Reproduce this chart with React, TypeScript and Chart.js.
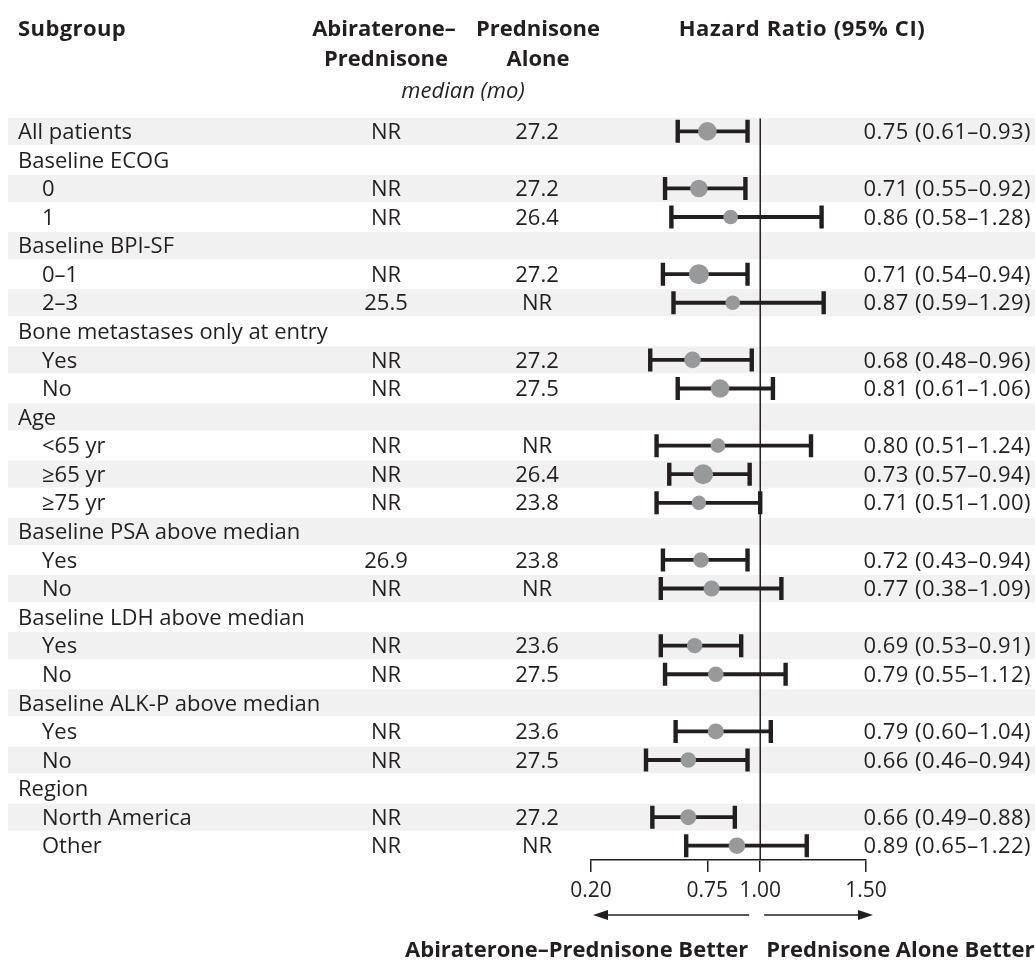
import React, { useEffect, useRef } from 'react';
import { Chart, registerables } from 'chart.js';

Chart.register(...registerables);

const W = 1035;
const H = 962;

// ---- data ----
const subgroups = [
  'All patients', 'Baseline ECOG', '0', '1', 'Baseline BPI-SF', '0–1', '2–3',
  'Bone metastases only at entry', 'Yes', 'No', 'Age', '<65 yr', '≥65 yr', '≥75 yr',
  'Baseline PSA above median', 'Yes', 'No', 'Baseline LDH above median', 'Yes', 'No',
  'Baseline ALK-P above median', 'Yes', 'No', 'Region', 'North America', 'Other',
];
const isSubRow = [0, 0, 1, 1, 0, 1, 1, 0, 1, 1, 0, 1, 1, 1, 0, 1, 1, 0, 1, 1, 0, 1, 1, 0, 1, 1];
const abiMedian = ['NR', '', 'NR', 'NR', '', 'NR', '25.5', '', 'NR', 'NR', '', 'NR', 'NR', 'NR', '', '26.9', 'NR', '', 'NR', 'NR', '', 'NR', 'NR', '', 'NR', 'NR'];
const predMedian = ['27.2', '', '27.2', '26.4', '', '27.2', 'NR', '', '27.2', '27.5', '', 'NR', '26.4', '23.8', '', '23.8', 'NR', '', '23.6', '27.5', '', '23.6', '27.5', '', '27.2', 'NR'];
const hr = [0.75, null, 0.71, 0.86, null, 0.71, 0.87, null, 0.68, 0.81, null, 0.80, 0.73, 0.71, null, 0.72, 0.77, null, 0.69, 0.79, null, 0.79, 0.66, null, 0.66, 0.89];
const ciLow = [0.61, null, 0.55, 0.58, null, 0.54, 0.59, null, 0.48, 0.61, null, 0.51, 0.57, 0.51, null, 0.54, 0.53, null, 0.53, 0.55, null, 0.60, 0.46, null, 0.49, 0.65];
const ciHigh = [0.94, null, 0.93, 1.29, null, 0.94, 1.30, null, 0.96, 1.06, null, 1.24, 0.95, 1.00, null, 0.94, 1.10, null, 0.91, 1.12, null, 1.05, 0.94, null, 0.88, 1.22];
const hrText = [
  '0.75 (0.61–0.93)', '', '0.71 (0.55–0.92)', '0.86 (0.58–1.28)', '', '0.71 (0.54–0.94)', '0.87 (0.59–1.29)', '',
  '0.68 (0.48–0.96)', '0.81 (0.61–1.06)', '', '0.80 (0.51–1.24)', '0.73 (0.57–0.94)', '0.71 (0.51–1.00)', '',
  '0.72 (0.43–0.94)', '0.77 (0.38–1.09)', '', '0.69 (0.53–0.91)', '0.79 (0.55–1.12)', '',
  '0.79 (0.60–1.04)', '0.66 (0.46–0.94)', '', '0.66 (0.49–0.88)', '0.89 (0.65–1.22)',
];
const xTicks = [0.2, 0.75, 1.0, 1.5];

// ---- styles ----
const markerRadius = [9.3, 0, 8.8, 7.3, 0, 10, 7.3, 0, 8.3, 9.3, 0, 7.3, 10, 7.2, 0, 7.8, 8, 0, 7.7, 7.8, 0, 8, 7.8, 0, 8, 8.3];
const INK = '#231f20';
const SHADE = '#f1f1f1';
const MARKER = '#97999b';
const FONT = '"Open Sans", sans-serif';
const BODY = 22;
const HEAD = 22;

function txt(ctx: CanvasRenderingContext2D, s: string, x: number, baseline: number, align: CanvasTextAlign, font: string, spacing = '0px') {
  ctx.font = font;
  ctx.textAlign = align;
  ctx.textBaseline = 'alphabetic';
  ctx.fillStyle = INK;
  (ctx as any).letterSpacing = spacing;
  ctx.fillText(s, x, baseline);
  (ctx as any).letterSpacing = '0px';
}

const forestPlugin = {
  id: 'forest',
  beforeDraw(chart: any) {
    const ctx = chart.ctx as CanvasRenderingContext2D;
    const y = chart.scales.y;
    ctx.save();
    ctx.fillStyle = SHADE;
    subgroups.forEach((_, i) => {
      if (i % 2 !== 0) return;
      const t = y.getPixelForValue(i - 0.5);
      const b = y.getPixelForValue(i + 0.5);
      ctx.fillRect(8, t + 0.8, W - 8, b - t - 1.6);
    });
    ctx.restore();
  },
  beforeDatasetsDraw(chart: any) {
    const ctx = chart.ctx as CanvasRenderingContext2D;
    const x = chart.scales.x;
    const y = chart.scales.y;
    ctx.save();
    const xr = x.getPixelForValue(1);
    ctx.strokeStyle = INK;
    ctx.lineWidth = 1.5;
    ctx.beginPath();
    ctx.moveTo(xr, y.getPixelForValue(-0.45));
    ctx.lineTo(xr, chart.chartArea.bottom);
    ctx.stroke();
    hr.forEach((v, i) => {
      if (v == null) return;
      const yc = y.getPixelForValue(i);
      const xl = x.getPixelForValue(ciLow[i] as number);
      const xh = x.getPixelForValue(ciHigh[i] as number);
      ctx.lineWidth = 3.8;
      ctx.beginPath();
      ctx.moveTo(xl, yc);
      ctx.lineTo(xh, yc);
      ctx.stroke();
      ctx.lineWidth = 4.4;
      ctx.beginPath();
      ctx.moveTo(xl, yc - 11.5);
      ctx.lineTo(xl, yc + 11.5);
      ctx.moveTo(xh, yc - 11.5);
      ctx.lineTo(xh, yc + 11.5);
      ctx.stroke();
    });
    ctx.restore();
  },
  afterDraw(chart: any) {
    const ctx = chart.ctx as CanvasRenderingContext2D;
    const x = chart.scales.x;
    const y = chart.scales.y;
    ctx.save();
    const bold = `bold ${HEAD}px ${FONT}`;
    const reg = `${BODY}px ${FONT}`;
    // header
    txt(ctx, 'Subgroup', 18, 36, 'left', bold, '0.4px');
    txt(ctx, 'Abiraterone–', 384, 36, 'center', bold);
    txt(ctx, 'Prednisone', 386, 66, 'center', bold);
    txt(ctx, 'Prednisone', 538, 36, 'center', bold);
    txt(ctx, 'Alone', 538, 66, 'center', bold);
    txt(ctx, 'median (mo)', 463, 98, 'center', `italic ${BODY}px ${FONT}`);
    txt(ctx, 'Hazard Ratio (95% CI)', 802, 36, 'center', bold, '0.6px');
    // rows
    subgroups.forEach((s, i) => {
      const base = y.getPixelForValue(i) + BODY * 0.35;
      txt(ctx, s, isSubRow[i] ? 42 : 18, base, 'left', reg);
      if (abiMedian[i]) txt(ctx, abiMedian[i], 386, base, 'center', reg);
      if (predMedian[i]) txt(ctx, predMedian[i], 537, base, 'center', reg);
      if (hrText[i]) txt(ctx, hrText[i], 1031, base, 'right', reg, '0.45px');
    });
    // arrows
    const xr = x.getPixelForValue(1);
    const ay = 915;
    const leftTip = x.getPixelForValue(0.2) + 2;
    const rightTip = x.getPixelForValue(1.5) + 7;
    ctx.strokeStyle = INK;
    ctx.fillStyle = INK;
    ctx.lineWidth = 1.5;
    ctx.beginPath();
    ctx.moveTo(xr - 11, ay);
    ctx.lineTo(leftTip + 10, ay);
    ctx.moveTo(xr + 4, ay);
    ctx.lineTo(rightTip - 10, ay);
    ctx.stroke();
    ctx.beginPath();
    ctx.moveTo(leftTip, ay);
    ctx.lineTo(leftTip + 15, ay - 5);
    ctx.lineTo(leftTip + 15, ay + 5);
    ctx.closePath();
    ctx.moveTo(rightTip, ay);
    ctx.lineTo(rightTip - 15, ay - 5);
    ctx.lineTo(rightTip - 15, ay + 5);
    ctx.closePath();
    ctx.fill();
    txt(ctx, 'Abiraterone–Prednisone Better', xr - 12, 957, 'right', bold);
    txt(ctx, 'Prednisone Alone Better', xr + 6, 957, 'left', bold);
    ctx.restore();
  },
};

export default function App() {
  const ref = useRef<HTMLCanvasElement | null>(null);
  useEffect(() => {
    if (!ref.current) return;
    const points = hr
      .map((v, i) => (v == null ? null : { x: v, y: i, r: markerRadius[i] }))
      .filter((p) => p !== null) as { x: number; y: number; r: number }[];
    const chart = new Chart(ref.current, {
      type: 'scatter',
      data: {
        datasets: [
          {
            data: points.map((p) => ({ x: p.x, y: p.y })),
            pointRadius: points.map((p) => p.r),
            pointHoverRadius: points.map((p) => p.r),
            backgroundColor: MARKER,
            borderWidth: 0,
          },
        ],
      },
      options: {
        animation: false,
        responsive: false,
        devicePixelRatio: 1,
        events: [],
        layout: { padding: { left: 591, right: W - 866, top: 117, bottom: 0 } },
        plugins: { legend: { display: false }, tooltip: { enabled: false }, title: { display: false } },
        scales: {
          x: {
            type: 'linear',
            min: 0.2,
            max: 1.5,
            position: 'bottom',
            afterBuildTicks: (scale: any) => {
              scale.ticks = xTicks.map((v) => ({ value: v }));
            },
            afterFit: (scale: any) => {
              scale.height = H - 860;
            },
            grid: {
              display: true,
              drawOnChartArea: false,
              drawTicks: true,
              tickLength: 12,
              tickWidth: 1.5,
              tickColor: INK,
              color: INK,
              lineWidth: 1.5,
            },
            border: { display: true, color: INK, width: 1.5 },
            ticks: {
              autoSkip: false,
              maxRotation: 0,
              padding: 6,
              color: INK,
              font: { family: FONT, size: 21 },
              callback: (v: any) => Number(v).toFixed(2),
            },
          },
          y: {
            type: 'linear',
            min: -0.5,
            max: subgroups.length - 0.5,
            reverse: true,
            display: false,
          },
        },
      },
      plugins: [forestPlugin],
    });
    return () => chart.destroy();
  }, []);
  return (
    <div style={{ position: 'fixed', left: 0, top: 0, width: W, height: H, background: '#fff' }}>
      <canvas ref={ref} width={W} height={H} style={{ display: 'block', width: W, height: H }} />
    </div>
  );
}
